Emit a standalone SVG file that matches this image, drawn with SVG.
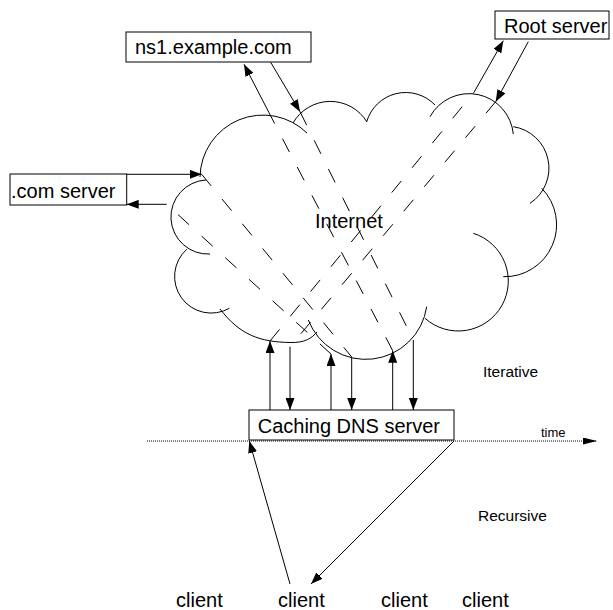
<svg xmlns="http://www.w3.org/2000/svg" width="613" height="610" viewBox="0 0 613 610">
  <style>
    text { font-family: "Liberation Sans", Arial, sans-serif; fill: #000; }
    .lbl { font-size: 20px; }
    .small { font-size: 15.5px; }
    .tiny { font-size: 13px; }
    .box { fill: #fff; stroke: #000; stroke-width: 1; }
    .cloud { fill: none; stroke: #000; stroke-width: 1; }
    .arrow { fill: none; stroke: #000; stroke-width: 1; marker-end: url(#ah); }
    .dash { fill: none; stroke: #000; stroke-width: 1; stroke-dasharray: 15 17; }
    .timeline { fill: none; stroke: #000; stroke-width: 1; stroke-dasharray: 1 1; marker-end: url(#aht); }
  </style>
  <defs>
    <marker id="ah" viewBox="0 0 12 9" markerWidth="12" markerHeight="9" refX="12" refY="4.5" orient="auto" markerUnits="userSpaceOnUse">
      <path d="M0,0 L12,4.5 L0,9 Z" fill="#000"/>
    </marker>
    <marker id="aht" viewBox="0 0 14 7" markerWidth="14" markerHeight="7" refX="14" refY="3.5" orient="auto" markerUnits="userSpaceOnUse">
      <path d="M0,0 L14,3.5 L0,7 Z" fill="#000"/>
    </marker>
  </defs>

  <!-- Internet cloud: separate lobes drawn as open arcs -->
  <g id="internet">
    <path class="cloud" d="M200,177 A63,63 0 0,1 307,133"/>
    <path class="cloud" d="M293,123 A43,43 0 0,1 367,122"/>
    <path class="cloud" d="M366.7,121.7 A40.6,40.6 0 0,1 435,105"/>
    <path class="cloud" d="M430,116.7 A44.5,44.5 0 0,1 513.3,134"/>
    <path class="cloud" d="M513.3,126.7 A42,42 0 0,1 530,203.3"/>
    <path class="cloud" d="M541.7,188.3 A52,52 0 0,1 503.3,276.7"/>
    <path class="cloud" d="M473.3,233.3 A50,50 0 1,1 425,318.3"/>
    <path class="cloud" d="M308.3,320 A61.6,61.6 0 0,0 426.7,306.7"/>
    <path class="cloud" d="M220,309 C240,335 260,342 290,342.5 C305,343 312,338 317,332"/>
    <path class="cloud" d="M186.7,249.3 A36.6,36.6 0 0,0 229.3,308.3"/>
    <path class="cloud" d="M206,180 A37,37 0 1,0 210,254"/>
    <text class="lbl" x="315" y="227.7">Internet</text>
  </g>

  <g id="ns1">
    <rect class="box" x="126" y="32" width="185" height="30"/>
    <text class="lbl" x="135" y="54">ns1.example.com</text>
  </g>

  <g id="root">
    <rect class="box" x="495" y="11" width="114" height="28"/>
    <text class="lbl" x="504" y="33">Root server</text>
  </g>

  <g id="com">
    <rect class="box" x="10" y="174" width="116.7" height="31"/>
    <text class="lbl" x="11" y="197.7">.com server</text>
  </g>

  <g id="caching">
    <rect class="box" x="249" y="410" width="205" height="30"/>
    <text class="lbl" x="257.7" y="433">Caching DNS server</text>
  </g>

  <g id="labels">
    <text class="small" x="483" y="377">Iterative</text>
    <text class="small" x="478" y="521">Recursive</text>
    <text class="tiny" x="541" y="436.5">time</text>
  </g>

  <g id="client1"><text class="lbl" x="176" y="607">client</text></g>
  <g id="client2"><text class="lbl" x="278" y="607">client</text></g>
  <g id="client3"><text class="lbl" x="381" y="607">client</text></g>
  <g id="client4"><text class="lbl" x="462" y="607">client</text></g>

  <g id="connectors">
    <!-- time axis -->
    <line class="timeline" x1="147" y1="441" x2="597" y2="441"/>

    <!-- caching server <-> cloud -->
    <line class="arrow" x1="270" y1="410" x2="270" y2="341"/>
    <line class="arrow" x1="290" y1="346.7" x2="290" y2="410"/>
    <line class="arrow" x1="331" y1="410" x2="331" y2="354"/>
    <line class="arrow" x1="351.7" y1="357" x2="351.7" y2="410"/>
    <line class="arrow" x1="392.7" y1="410" x2="392.7" y2="350.7"/>
    <line class="arrow" x1="413.3" y1="340" x2="413.3" y2="410"/>

    <!-- paths through the Internet -->
    <line class="dash" x1="270" y1="341" x2="474" y2="92.3"/>
    <line class="dash" x1="495.7" y1="101.7" x2="290" y2="346.7"/>
    <line class="dash" x1="392.7" y1="350.7" x2="269" y2="112.7"/>
    <line class="dash" x1="300" y1="111.7" x2="413.3" y2="340"/>
    <line class="dash" x1="331" y1="354" x2="166.7" y2="204.3"/>
    <line class="dash" x1="201.7" y1="174.3" x2="351.7" y2="357"/>

    <!-- cloud <-> servers -->
    <line class="arrow" x1="474" y1="92.3" x2="503.3" y2="40.7"/>
    <line class="arrow" x1="528.3" y1="41.7" x2="495.7" y2="101.7"/>
    <line class="arrow" x1="269" y1="112.7" x2="244" y2="64.3"/>
    <line class="arrow" x1="270.7" y1="62.3" x2="300" y2="111.7"/>
    <line class="arrow" x1="126.7" y1="174.3" x2="201.7" y2="174.3"/>
    <line class="arrow" x1="166.7" y1="204.3" x2="126.7" y2="204.3"/>

    <!-- client <-> caching server -->
    <line class="arrow" x1="290" y1="584" x2="249.3" y2="441"/>
    <line class="arrow" x1="454" y1="441" x2="311" y2="584"/>
  </g>
</svg>
